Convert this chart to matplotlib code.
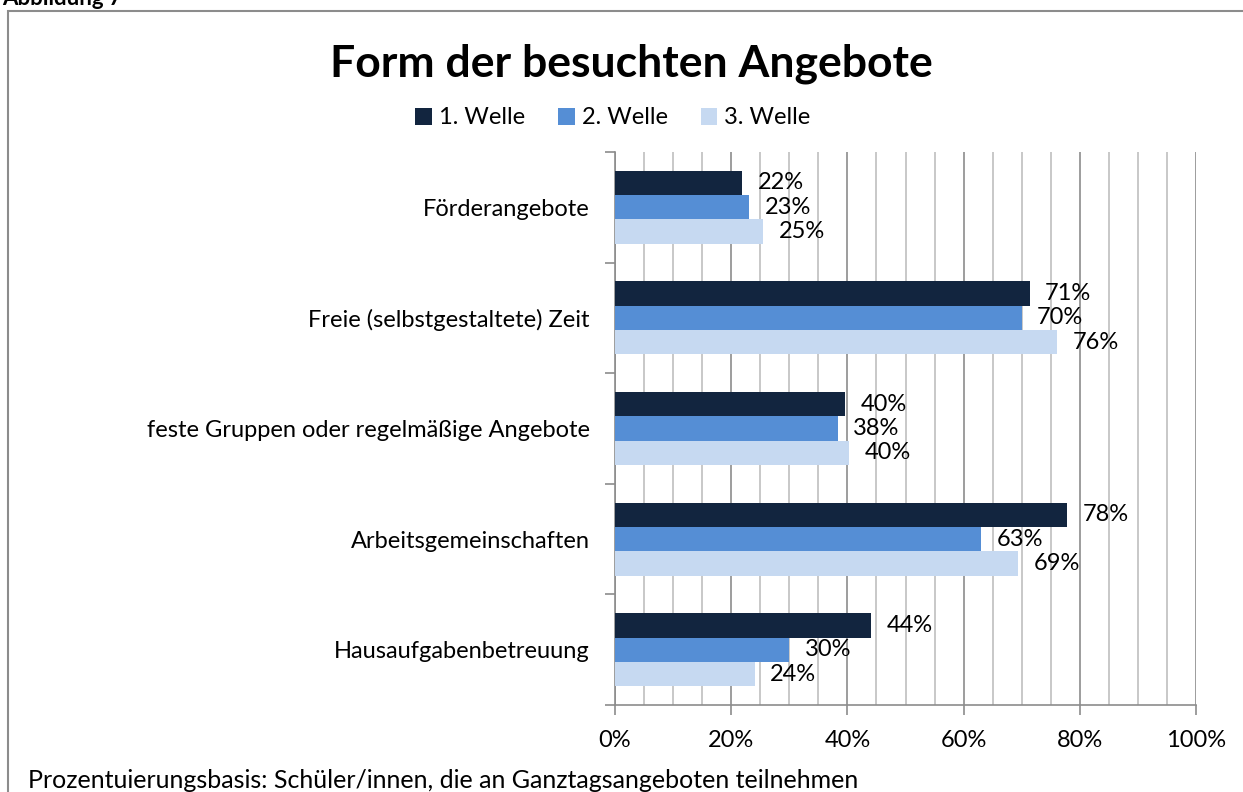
import numpy as np
import matplotlib.pyplot as plt
from matplotlib.patches import Rectangle

plt.rcParams['font.family'] = ['Lato', 'DejaVu Sans']

# Data
CATEGORIES = ['Förderangebote', 'Freie (selbstgestaltete) Zeit',
              'feste Gruppen oder regelmäßige Angebote',
              'Arbeitsgemeinschaften', 'Hausaufgabenbetreuung']
WAVES = ['1. Welle', '2. Welle', '3. Welle']
welle1 = [22, 71, 40, 78, 44]
welle2 = [23, 70, 38, 63, 30]
welle3 = [25, 76, 40, 69, 24]
bar_len1 = [21.9, 71.4, 39.6, 77.8, 44.1]
bar_len2 = [23.1, 70.0, 38.4, 63.0, 30.0]
bar_len3 = [25.5, 76.1, 40.3, 69.4, 24.1]
COLORS = ['#12253F', '#558ED5', '#C6D9F1']

FS = 17
W, H = 1243, 792
fig = plt.figure(figsize=(W / 100, H / 100), dpi=100)
ax = fig.add_axes([615 / W, 1 - 705 / H, (1196 - 615) / W, (705 - 152) / H])

# outer border
fig.patches.append(Rectangle((8 / W, -0.01), 1.1, 1 - 11 / H + 0.01,
                             transform=fig.transFigure, fill=False,
                             edgecolor='#8c8c8c', linewidth=1.5))
fig.text(2 / W, 1 - 5 / H, 'Abbildung 7', fontsize=16, fontweight='bold',
         va='baseline', ha='left')

n = len(CATEGORIES)
y = np.arange(n)[::-1].astype(float)
h = 0.22
lens = [bar_len1, bar_len2, bar_len3]
vals = [welle1, welle2, welle3]
for i in range(3):
    ypos = y + h - i * h
    ax.barh(ypos, lens[i], height=h, color=COLORS[i], label=WAVES[i],
            edgecolor='none', zorder=3)
    for yy, l, v in zip(ypos, lens[i], vals[i]):
        ax.annotate('%d%%' % v, (l, yy), xytext=(11, 0),
                    textcoords='offset points', va='center', ha='left',
                    fontsize=FS, zorder=4)

ax.set_xlim(0, 100)
ax.set_ylim(-0.5, n - 0.5)
ax.set_xticks(np.arange(0, 101, 20))
ax.set_xticklabels(['%d%%' % t for t in range(0, 101, 20)], fontsize=FS)
ax.set_xticks(np.arange(0, 101, 5), minor=True)
ax.grid(axis='x', which='minor', color='#bfbfbf', linewidth=1.2, zorder=0)
ax.grid(axis='x', which='major', color='#8c8c8c', linewidth=1.2, zorder=0)
ax.tick_params(axis='x', which='major', length=7, width=1.2, color='#8c8c8c',
               pad=11)
ax.tick_params(axis='x', which='minor', length=0)

ax.set_yticks(y)
ax.set_yticklabels(CATEGORIES, fontsize=FS)
ax.set_yticks(np.arange(-0.5, n, 1), minor=True)
ax.tick_params(axis='y', which='major', length=0, pad=18)
ax.tick_params(axis='y', which='minor', length=7, width=1.2, color='#8c8c8c')

for s in ['top', 'right']:
    ax.spines[s].set_visible(False)
for s in ['left', 'bottom']:
    ax.spines[s].set_color('#8c8c8c')
    ax.spines[s].set_linewidth(1.2)

fig.text(631 / W, 1 - 64 / H, 'Form der besuchten Angebote', fontsize=32,
         fontweight='bold', ha='center', va='center')
fig.legend(loc='center', bbox_to_anchor=(613 / W, 1 - 118 / H), ncol=3,
           frameon=False, fontsize=FS, handlelength=0.7, handleheight=0.7,
           handletextpad=0.3, columnspacing=1.4)

fig.text(28 / W, 1 - 780 / H,
         'Prozentuierungsbasis: Schüler/innen, die an Ganztagsangeboten teilnehmen',
         fontsize=18, ha='left', va='center')

plt.savefig('out.png', dpi=100)
